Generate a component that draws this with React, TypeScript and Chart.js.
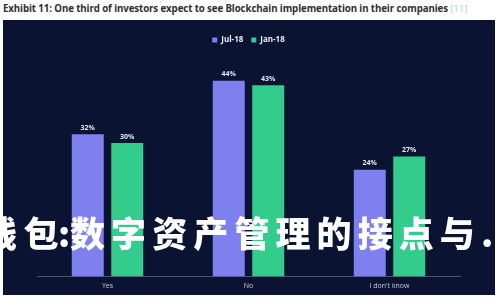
import React, { useEffect, useRef } from "react";
import { Chart, registerables } from "chart.js";

Chart.register(...registerables);

const categories = ["Yes", "No", "I don't know"];
const jul18 = [32, 44, 24];
const jan18 = [30, 43, 27];
const seriesNames = ["Jul-18", "Jan-18"];
const titleText = "Exhibit 11: One third of investors expect to see Blockchain implementation in their companies";
const titleRef = "[11]";
const overlayHead = ["钱", "包"];
const overlaySep = ":";
const overlayTail = ["数", "字", "资", "产", "管", "理", "的", "接", "点", "与"];
const overlayEnd = "...";

const valueLabels = {
  id: "valueLabels",
  afterDatasetsDraw(chart: any) {
    const ctx = chart.ctx;
    ctx.save();
    ctx.fillStyle = "#e6e8f2";
    ctx.font = "bold 7px 'Open Sans', sans-serif";
    ctx.textAlign = "center";
    ctx.textBaseline = "bottom";
    chart.data.datasets.forEach((ds: any, i: number) => {
      const meta = chart.getDatasetMeta(i);
      meta.data.forEach((bar: any, j: number) => {
        ctx.fillText(ds.data[j] + "%", bar.x, bar.y - 3);
      });
    });
    ctx.restore();
  },
};

const glyph = (w: number, align: "left" | "center" = "left"): React.CSSProperties => ({
  display: "inline-block",
  width: w,
  textAlign: align,
  flex: "none",
});

export default function App() {
  const ref = useRef<HTMLCanvasElement | null>(null);
  useEffect(() => {
    document.body.style.margin = "0";
    const chart = new Chart(ref.current!, {
      type: "bar",
      data: {
        labels: categories,
        datasets: [
          { label: seriesNames[0], data: jul18, backgroundColor: "#7f80f0", categoryPercentage: 0.56, barPercentage: 0.81 },
          { label: seriesNames[1], data: jan18, backgroundColor: "#33cc8c", categoryPercentage: 0.56, barPercentage: 0.81 },
        ],
      },
      options: {
        animation: false,
        responsive: false,
        maintainAspectRatio: false,
        layout: { padding: { left: 34, right: 35, top: 8, bottom: 0 } },
        plugins: {
          legend: {
            position: "top",
            labels: {
              color: "#e8eaf4",
              boxWidth: 5,
              boxHeight: 5,
              padding: 8,
              font: { size: 8, weight: "bold", family: "'Open Sans', sans-serif" },
            },
          },
          tooltip: { enabled: false },
        },
        scales: {
          x: {
            grid: { display: false, drawTicks: false },
            border: { display: true, color: "#4b5275", width: 1 },
            ticks: { color: "#c8cad8", font: { size: 7, family: "'Open Sans', sans-serif" }, padding: 5 },
          },
          y: {
            display: false,
            min: 0,
            max: 50,
          },
        },
      },
      plugins: [valueLabels],
    });
    return () => chart.destroy();
  }, []);

  return (
    <div style={{ position: "fixed", left: 0, top: 0, width: 500, height: 300, background: "#ffffff", overflow: "hidden" }}>
      <div
        style={{
          position: "absolute",
          left: 3,
          top: 2,
          fontFamily: "'Open Sans', sans-serif",
          fontWeight: 700,
          fontSize: 9.7,
          color: "#2e2e2e",
          whiteSpace: "nowrap",
          letterSpacing: -0.1,
        }}
      >
        {titleText} <span style={{ color: "#9fd6cc", fontWeight: 400 }}>{titleRef}</span>
      </div>
      <div style={{ position: "absolute", left: 3, top: 20, width: 492, height: 275, background: "#0a1332" }}>
        <canvas ref={ref} width={492} height={275} style={{ display: "block" }} />
      </div>
      <div
        style={{
          position: "absolute",
          left: -18,
          top: 214,
          display: "flex",
          fontFamily: "'Noto Sans CJK SC', sans-serif",
          fontWeight: 900,
          fontSize: 35,
          lineHeight: "36px",
          color: "#ffffff",
          whiteSpace: "nowrap",
        }}
      >
        <span style={glyph(41.5)}>{overlayHead[0]}</span>
        <span style={glyph(34.5)}>{overlayHead[1]}</span>
        <span style={glyph(12, "center")}>{overlaySep}</span>
        {overlayTail.map((c, i) => (
          <span key={i} style={glyph(41.1)}>{c}</span>
        ))}
        <span style={glyph(40)}>{overlayEnd}</span>
      </div>
    </div>
  );
}
